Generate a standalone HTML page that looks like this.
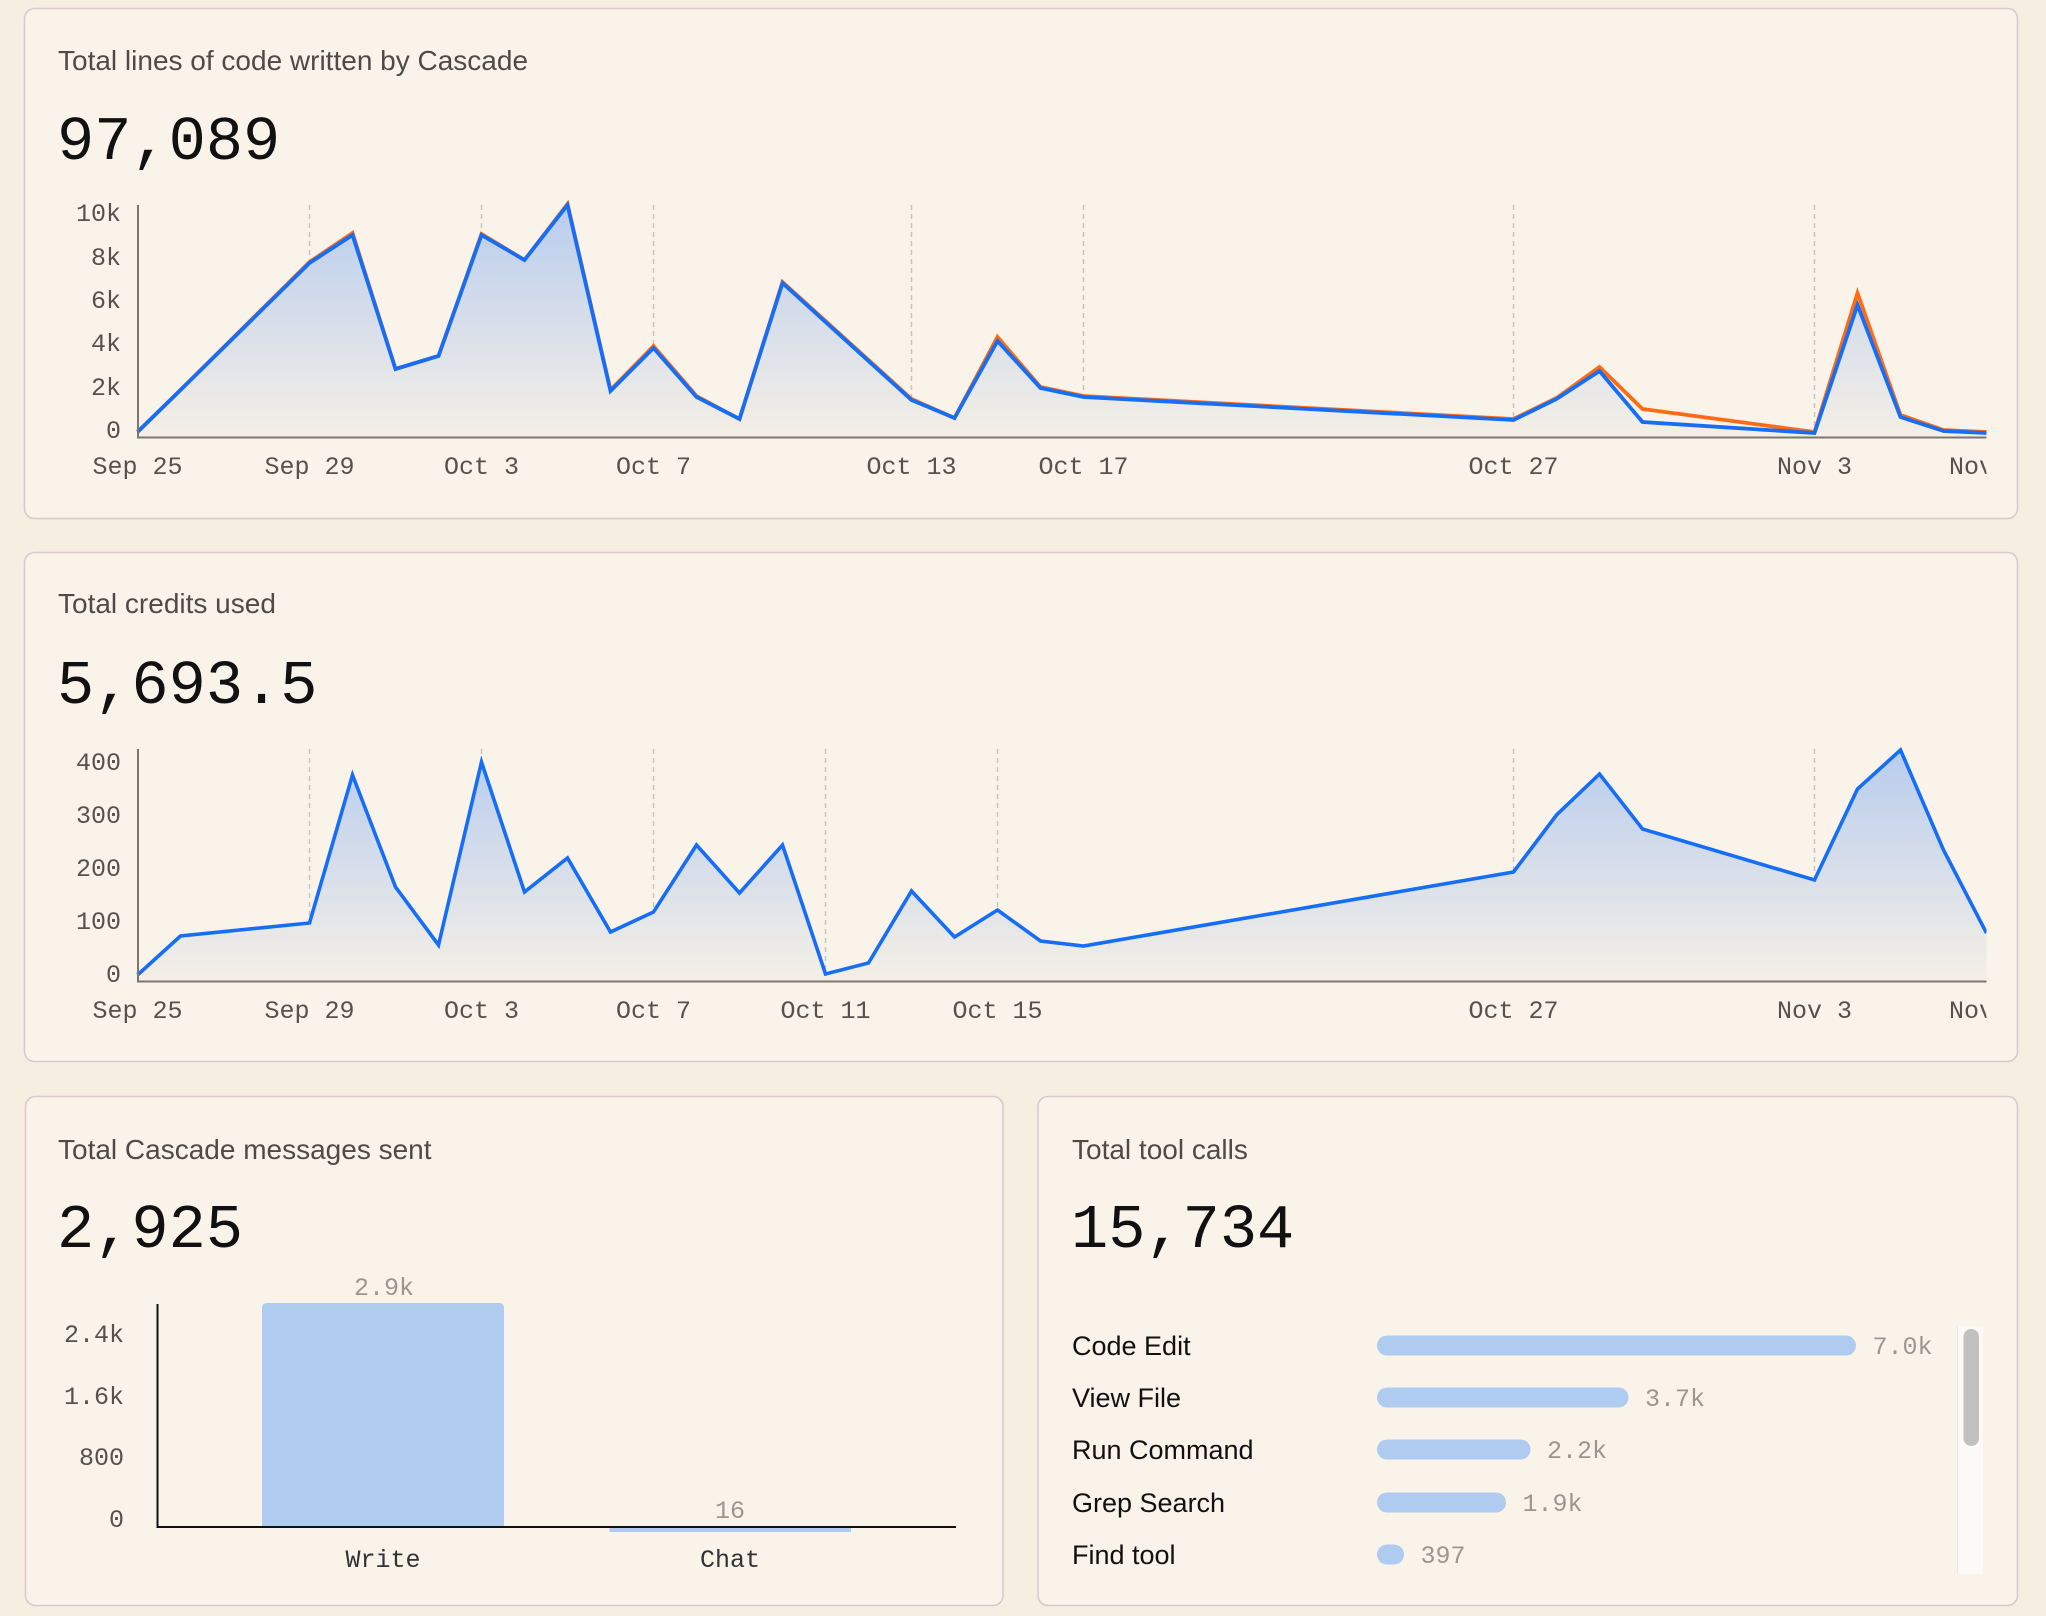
<!DOCTYPE html>
<html><head><meta charset="utf-8">
<style>
html,body{margin:0;padding:0;background:#f5eee1;}
svg{display:block;}
.t{font-family:"Liberation Sans",sans-serif;font-size:28px;fill:#4e4b46;}
.n{font-family:"Liberation Mono",monospace;font-size:62px;fill:#111;}
.m{font-family:"Liberation Mono",monospace;font-size:25px;fill:#55524d;}
.v{font-family:"Liberation Mono",monospace;font-size:25px;fill:#9a978f;}
.r{font-family:"Liberation Sans",sans-serif;font-size:27px;fill:#111;}
</style></head>
<body>
<svg width="2046" height="1616" viewBox="0 0 2046 1616" xmlns="http://www.w3.org/2000/svg">
<defs>
<linearGradient id="g1" gradientUnits="userSpaceOnUse" x1="0" y1="200" x2="0" y2="437">
<stop offset="0" stop-color="#b8ccee"/><stop offset="1" stop-color="#f4efe6"/></linearGradient>
<linearGradient id="g2" gradientUnits="userSpaceOnUse" x1="0" y1="748" x2="0" y2="981">
<stop offset="0" stop-color="#b8ccee"/><stop offset="1" stop-color="#f4efe6"/></linearGradient>
<clipPath id="c1"><rect x="130" y="180" width="1856.5" height="320"/></clipPath>
<clipPath id="c2"><rect x="130" y="725" width="1856.5" height="320"/></clipPath>
<clipPath id="l1"><rect x="0" y="440" width="1986.5" height="60"/></clipPath>
<clipPath id="l2"><rect x="0" y="985" width="1986.5" height="60"/></clipPath>
</defs>
<rect width="2046" height="1616" fill="#f5eee1"/>
<!-- cards -->
<rect x="24.5" y="8.5" width="1993" height="510" rx="10" fill="#faf3e9" stroke="#dcc6cf" stroke-width="1.5"/>
<rect x="24.5" y="552.5" width="1993" height="509" rx="10" fill="#faf3e9" stroke="#dcc6cf" stroke-width="1.5"/>
<rect x="25.5" y="1096.5" width="977.5" height="509" rx="10" fill="#faf3e9" stroke="#dcc6cf" stroke-width="1.5"/>
<rect x="1038" y="1096.5" width="979.5" height="509" rx="10" fill="#faf3e9" stroke="#dcc6cf" stroke-width="1.5"/>

<!-- Card 1 -->
<text class="t" x="58" y="70">Total lines of code written by Cascade</text>
<text class="n" x="57" y="159">97,089</text>
<g stroke="#c9c5bd" stroke-width="1.5" stroke-dasharray="5 4">
<line x1="309.5" y1="205" x2="309.5" y2="437"/><line x1="481.5" y1="205" x2="481.5" y2="437"/>
<line x1="653.5" y1="205" x2="653.5" y2="437"/><line x1="911.5" y1="205" x2="911.5" y2="437"/>
<line x1="1083.5" y1="205" x2="1083.5" y2="437"/><line x1="1513.5" y1="205" x2="1513.5" y2="437"/>
<line x1="1814.5" y1="205" x2="1814.5" y2="437"/>
</g>
<g clip-path="url(#c1)">
<path fill="url(#g1)" d="M137.5,432 L180.5,390 L309.5,263 L352.5,235 L395.5,369 L438.5,356 L481.5,235 L524.5,260 L567.5,205 L610.5,391 L653.5,348 L696.5,397 L739.5,419 L782.5,283 L911.5,400 L954.5,418 L997.5,341 L1040.5,388 L1083.5,397 L1513.5,420 L1556.5,399 L1599.5,371 L1642.5,422 L1814.5,433 L1857.5,305 L1900.5,417 L1943.5,431 L1986.5,433 L1986.5,437 L137.5,437 Z"/>
<polyline fill="none" stroke="#ff6a12" stroke-width="3.8" stroke-linejoin="miter" points="137.5,432 180.5,390 309.5,262 352.5,233 395.5,369 438.5,356 481.5,234 524.5,260 567.5,204 610.5,390 653.5,346 696.5,396 739.5,419 782.5,282 911.5,399 954.5,418 997.5,337 1040.5,387 1083.5,396 1513.5,419 1556.5,398 1599.5,367 1642.5,409 1814.5,432 1857.5,293 1900.5,415 1943.5,430 1986.5,432"/>
<polyline fill="none" stroke="#166ef7" stroke-width="3.8" stroke-linejoin="miter" points="137.5,432 180.5,390 309.5,263 352.5,235 395.5,369 438.5,356 481.5,235 524.5,260 567.5,205 610.5,391 653.5,348 696.5,397 739.5,419 782.5,283 911.5,400 954.5,418 997.5,341 1040.5,388 1083.5,397 1513.5,420 1556.5,399 1599.5,371 1642.5,422 1814.5,433 1857.5,305 1900.5,417 1943.5,431 1986.5,433"/>
</g>
<g stroke="#7b776f" stroke-width="2">
<line x1="138" y1="205" x2="138" y2="438"/>
<line x1="137" y1="437.5" x2="1986.5" y2="437.5"/>
</g>
<g class="m" text-anchor="end">
<text x="121" y="221">10k</text><text x="121" y="265">8k</text><text x="121" y="308">6k</text>
<text x="121" y="351">4k</text><text x="121" y="395">2k</text><text x="121" y="438">0</text>
</g>
<g class="m" text-anchor="middle" clip-path="url(#l1)">
<text x="137.5" y="474">Sep 25</text><text x="309.5" y="474">Sep 29</text><text x="481.5" y="474">Oct 3</text>
<text x="653.5" y="474">Oct 7</text><text x="911.5" y="474">Oct 13</text><text x="1083.5" y="474">Oct 17</text>
<text x="1513.5" y="474">Oct 27</text><text x="1814.5" y="474">Nov 3</text><text x="1986.5" y="474">Nov 7</text>
</g>

<!-- Card 2 -->
<text class="t" x="58" y="613">Total credits used</text>
<text class="n" x="57" y="703">5,693.5</text>
<g stroke="#c9c5bd" stroke-width="1.5" stroke-dasharray="5 4">
<line x1="309.5" y1="749" x2="309.5" y2="981"/><line x1="481.5" y1="749" x2="481.5" y2="981"/>
<line x1="653.5" y1="749" x2="653.5" y2="981"/><line x1="825.5" y1="749" x2="825.5" y2="981"/>
<line x1="997.5" y1="749" x2="997.5" y2="981"/><line x1="1513.5" y1="749" x2="1513.5" y2="981"/>
<line x1="1814.5" y1="749" x2="1814.5" y2="981"/>
</g>
<g clip-path="url(#c2)">
<path fill="url(#g2)" d="M137.5,975 L180.5,936 L309.5,923 L352.5,775 L395.5,887 L438.5,945 L481.5,762 L524.5,892 L567.5,858 L610.5,932 L653.5,912 L696.5,845 L739.5,893 L782.5,845 L825.5,974 L868.5,963 L911.5,891 L954.5,937 L997.5,910 L1040.5,941 L1083.5,946 L1513.5,872 L1556.5,815 L1599.5,774 L1642.5,829 L1814.5,880 L1857.5,789 L1900.5,750 L1943.5,850 L1986.5,933 L1986.5,981 L137.5,981 Z"/>
<polyline fill="none" stroke="#166ef7" stroke-width="3.6" stroke-linejoin="miter" points="137.5,975 180.5,936 309.5,923 352.5,775 395.5,887 438.5,945 481.5,762 524.5,892 567.5,858 610.5,932 653.5,912 696.5,845 739.5,893 782.5,845 825.5,974 868.5,963 911.5,891 954.5,937 997.5,910 1040.5,941 1083.5,946 1513.5,872 1556.5,815 1599.5,774 1642.5,829 1814.5,880 1857.5,789 1900.5,750 1943.5,850 1986.5,933"/>
</g>
<g stroke="#7b776f" stroke-width="2">
<line x1="138" y1="749" x2="138" y2="982"/>
<line x1="137" y1="981.5" x2="1986.5" y2="981.5"/>
</g>
<g class="m" text-anchor="end">
<text x="121" y="770">400</text><text x="121" y="823">300</text><text x="121" y="876">200</text>
<text x="121" y="929">100</text><text x="121" y="982">0</text>
</g>
<g class="m" text-anchor="middle" clip-path="url(#l2)">
<text x="137.5" y="1018">Sep 25</text><text x="309.5" y="1018">Sep 29</text><text x="481.5" y="1018">Oct 3</text>
<text x="653.5" y="1018">Oct 7</text><text x="825.5" y="1018">Oct 11</text><text x="997.5" y="1018">Oct 15</text>
<text x="1513.5" y="1018">Oct 27</text><text x="1814.5" y="1018">Nov 3</text><text x="1986.5" y="1018">Nov 7</text>
</g>

<!-- Card 3 -->
<text class="t" x="58" y="1159">Total Cascade messages sent</text>
<text class="n" x="57" y="1247">2,925</text>
<path d="M262,1526 L262,1308 Q262,1303 267,1303 L499,1303 Q504,1303 504,1308 L504,1526 Z" fill="#b0cbf0"/>
<rect x="609.5" y="1527" width="241.5" height="5" fill="#b0cbf0"/>
<g stroke="#111" stroke-width="2">
<line x1="157.5" y1="1304" x2="157.5" y2="1528"/>
<line x1="156.5" y1="1527" x2="956" y2="1527"/>
</g>
<g class="m" text-anchor="end">
<text x="124" y="1342">2.4k</text><text x="124" y="1404">1.6k</text><text x="124" y="1465">800</text><text x="124" y="1527">0</text>
</g>
<text class="v" x="384" y="1295" text-anchor="middle">2.9k</text>
<text class="v" x="730" y="1518" text-anchor="middle">16</text>
<g class="m" text-anchor="middle" style="fill:#333">
<text x="383" y="1567">Write</text><text x="730" y="1567">Chat</text>
</g>

<!-- Card 4 -->
<text class="t" x="1072" y="1159">Total tool calls</text>
<text class="n" x="1071" y="1247">15,734</text>
<g class="r">
<text x="1072" y="1355">Code Edit</text>
<text x="1072" y="1407">View File</text>
<text x="1072" y="1459">Run Command</text>
<text x="1072" y="1512">Grep Search</text>
<text x="1072" y="1564">Find tool</text>
</g>
<g fill="#b0cbf0">
<rect x="1377" y="1335.5" width="479" height="20" rx="10"/>
<rect x="1377" y="1387.5" width="251.5" height="20" rx="10"/>
<rect x="1377" y="1439.5" width="153.5" height="20" rx="10"/>
<rect x="1377" y="1492.5" width="129" height="20" rx="10"/>
<rect x="1377" y="1544.5" width="27" height="20" rx="10"/>
</g>
<g class="v">
<text x="1872.5" y="1354">7.0k</text>
<text x="1645" y="1406">3.7k</text>
<text x="1547" y="1458">2.2k</text>
<text x="1522.5" y="1511">1.9k</text>
<text x="1420.5" y="1563">397</text>
</g>
<rect x="1957" y="1326.5" width="26" height="247.5" fill="#fbfaf8"/>
<line x1="1957.5" y1="1326.5" x2="1957.5" y2="1574" stroke="#ebe8e3" stroke-width="1"/>
<rect x="1963.5" y="1329" width="15.5" height="117" rx="7.5" fill="#c1c1c1"/>
</svg>
</body></html>
